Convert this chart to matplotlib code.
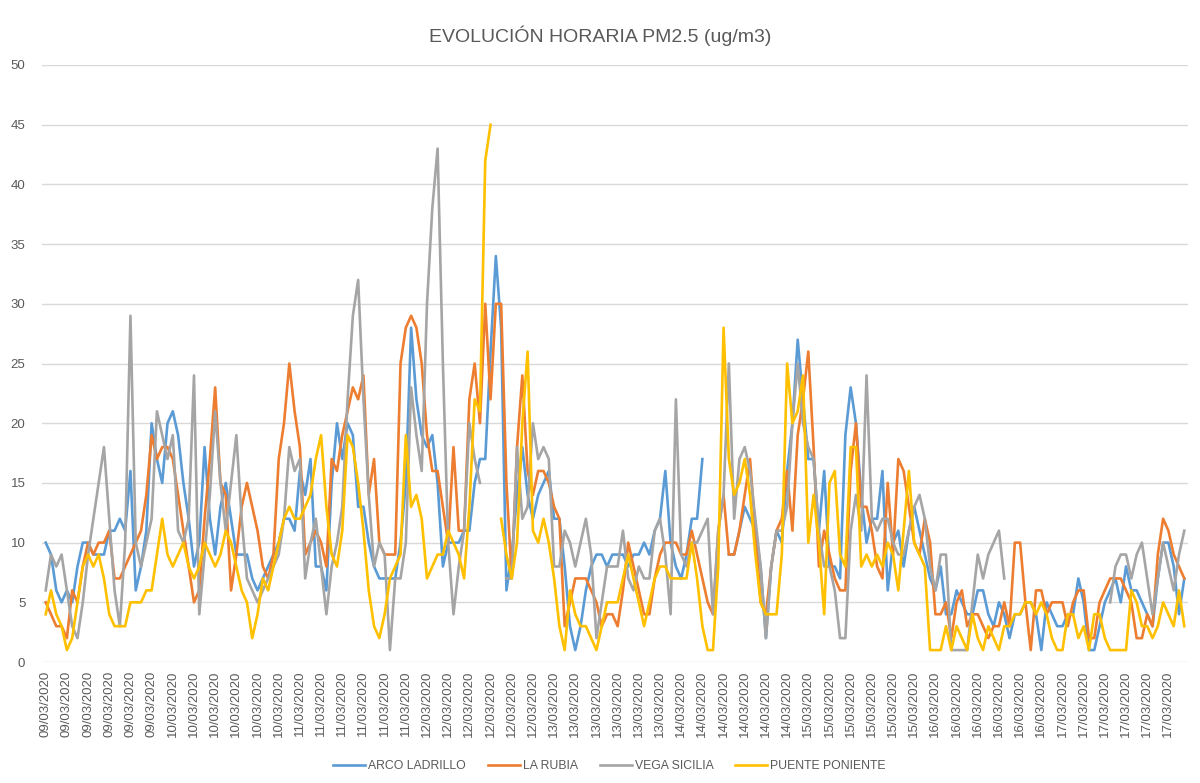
import numpy as np
import matplotlib
matplotlib.use("Agg")
import matplotlib.pyplot as plt

nan = np.nan

# dias (cada etiqueta cada 4 horas)
dias = ['09/03/2020', '10/03/2020', '11/03/2020', '12/03/2020', '13/03/2020',
        '14/03/2020', '15/03/2020', '16/03/2020', '17/03/2020']

# ---- PM2.5 horario (ug/m3), 24 valores por dia
arco_ladrillo = [
    10, 9, 6, 5, 6, 5, 8, 10, 10, 9, 9, 9, 11, 11, 12, 11, 16, 6, 8, 11, 20, 17, 15, 20,
    21, 19, 15, 12, 8, 10, 18, 12, 9, 13, 15, 12, 9, 9, 9, 7, 6, 7, 8, 9, 10, 12, 12, 11,
    16, 14, 17, 8, 8, 6, 15, 20, 17, 20, 19, 13, 13, 10, 8, 7, 7, 7, 7, 10, 15, 28, 22, 19,
    18, 19, 15, 8, 10, 10, 10, 11, 11, 15, 17, 17, 26, 34, 28, 6, 9, 14, 18, 14, 12, 14, 15, 16,
    12, 12, 8, 3, 1, 3, 6, 8, 9, 9, 8, 9, 9, 9, 8, 9, 9, 10, 9, 11, 12, 16, 10, 8,
    7, 9, 12, 12, 17, nan, nan, nan, nan, 9, 9, 11, 13, 12, 11, 8, 2, 8, 11, 10, 16, 20, 27, 22,
    17, 17, 11, 16, 8, 8, 7, 19, 23, 20, 14, 10, 12, 12, 16, 6, 10, 11, 8, 11, 13, 11, 9, 7,
    6, 8, 4, 4, 6, 5, 4, 4, 6, 6, 4, 3, 5, 4, 2, 4, 4, 5, 5, 4, 1, 5, 4, 3,
    3, 4, 4, 7, 5, 1, 1, 3, 5, 6, 7, 5, 8, 6, 6, 5, 4, 3, 7, 10, 10, 8, 4, 7,
]
la_rubia = [
    5, 4, 3, 3, 2, 6, 5, 8, 10, 9, 10, 10, 11, 7, 7, 8, 9, 10, 11, 14, 19, 17, 18, 18,
    17, 14, 11, 8, 5, 6, 12, 17, 23, 15, 14, 6, 9, 13, 15, 13, 11, 8, 7, 9, 17, 20, 25, 21,
    18, 9, 10, 11, 10, 8, 17, 16, 19, 21, 23, 22, 24, 14, 17, 10, 9, 9, 9, 25, 28, 29, 28, 25,
    19, 16, 16, 13, 10, 18, 11, 11, 22, 25, 20, 30, 22, 30, 30, 15, 7, 18, 24, 16, 14, 16, 16, 15,
    13, 12, 3, 5, 7, 7, 7, 6, 5, 3, 4, 4, 3, 6, 10, 8, 6, 4, 4, 7, 9, 10, 10, 10,
    9, 9, 11, 9, 7, 5, 4, 11, 14, 9, 9, 11, 14, 17, 11, 5, 4, 8, 11, 12, 16, 11, 19, 22,
    26, 18, 8, 11, 9, 7, 6, 6, 16, 20, 13, 13, 11, 8, 7, 15, 9, 17, 16, 13, 10, 9, 12, 10,
    4, 4, 5, 2, 5, 6, 3, 4, 4, 3, 2, 3, 3, 5, 3, 10, 10, 5, 1, 6, 6, 4, 5, 5,
    5, 3, 5, 6, 6, 2, 2, 5, 6, 7, 7, 7, 6, 5, 2, 2, 4, 3, 9, 12, 11, 9, 8, 7,
]
vega_sicilia = [
    6, 9, 8, 9, 6, 3, 2, 5, 9, 12, 15, 18, 12, 6, 3, 10, 29, 10, 8, 10, 12, 21, 19, 17,
    19, 11, 10, 12, 24, 4, 9, 14, 21, 15, 11, 15, 19, 12, 7, 6, 5, 6, 7, 8, 9, 12, 18, 16,
    17, 7, 10, 12, 8, 4, 8, 10, 13, 22, 29, 32, 22, 14, 8, 10, 9, 1, 7, 7, 10, 23, 19, 16,
    30, 38, 43, 25, 10, 4, 8, 11, 20, 17, 15, nan, nan, nan, nan, 7, 7, 18, 12, 13, 20, 17, 18, 17,
    8, 8, 11, 10, 8, 10, 12, 9, 2, 5, 8, 8, 8, 11, 7, 6, 8, 7, 7, 11, 12, 9, 4, 22,
    9, 8, 10, 10, 11, 12, 4, 11, 14, 25, 12, 17, 18, 16, 12, 8, 2, 8, 11, 11, 13, 20, 25, 20,
    18, 17, 11, 8, 8, 6, 2, 2, 11, 14, 11, 24, 12, 11, 12, 12, 10, 9, 9, 11, 13, 14, 12, 8,
    6, 9, 9, 1, 1, 1, 1, 5, 9, 7, 9, 10, 11, 7, nan, nan, nan, nan, nan, nan, nan, nan, nan, nan,
    nan, nan, nan, nan, nan, nan, nan, nan, nan, 5, 8, 9, 9, 7, 9, 10, 7, 4, 7, 10, 8, 6, 9, 11,
]
puente_poniente = [
    4, 6, 4, 3, 1, 2, 5, 8, 9, 8, 9, 7, 4, 3, 3, 3, 5, 5, 5, 6, 6, 9, 12, 9,
    8, 9, 10, 8, 7, 8, 10, 9, 8, 9, 11, 10, 8, 6, 5, 2, 4, 7, 6, 8, 10, 12, 13, 12,
    12, 13, 14, 17, 19, 13, 9, 8, 11, 19, 18, 15, 11, 6, 3, 2, 4, 7, 8, 9, 19, 13, 14, 12,
    7, 8, 9, 9, 11, 10, 9, 7, 13, 22, 21, 42, 45, nan, 12, 9, 7, 10, 20, 26, 11, 10, 12, 10,
    7, 3, 1, 6, 4, 3, 3, 2, 1, 3, 5, 5, 5, 7, 9, 7, 5, 3, 5, 7, 8, 8, 7, 7,
    7, 7, 10, 7, 3, 1, 1, 8, 28, 17, 14, 15, 17, 14, 9, 5, 4, 4, 4, 9, 25, 20, 21, 24,
    10, 14, 10, 4, 15, 16, 9, 8, 18, 18, 8, 9, 8, 9, 8, 10, 9, 6, 11, 16, 10, 9, 8, 1,
    1, 1, 3, 1, 3, 2, 1, 4, 2, 1, 3, 2, 1, 3, 3, 4, 4, 5, 5, 4, 5, 4, 2, 1,
    1, 4, 4, 2, 3, 1, 4, 4, 2, 1, 1, 1, 1, 6, 5, 3, 3, 2, 3, 5, 4, 3, 6, 3,
]

series = [
    ('ARCO LADRILLO', arco_ladrillo, '#5B9BD5'),
    ('LA RUBIA', la_rubia, '#ED7D31'),
    ('VEGA SICILIA', vega_sicilia, '#A5A5A5'),
    ('PUENTE PONIENTE', puente_poniente, '#FFC000'),
]

gris = '#595959'
plt.rcParams['font.family'] = ['Liberation Sans', 'DejaVu Sans']

fig = plt.figure(figsize=(12, 7.83), dpi=100)
ax = fig.add_axes([0.035, 0.1545, 0.955, 0.7625])

horas = np.arange(len(arco_ladrillo))
for nombre, valores, color in series:
    ax.plot(horas, valores, color=color, linewidth=1.9, label=nombre)

ax.set_ylim(0, 50)
ax.set_yticks(np.arange(0, 51, 5))
ax.set_xlim(-0.7, len(horas) - 0.3)

# etiquetas cada 4 horas
etiquetas = [d for d in dias for _ in range(6)]
ax.set_xticks(horas[::4])
ax.set_xticklabels(etiquetas, rotation=90, fontsize=9.5, color=gris)
ax.tick_params(axis='y', labelsize=9.5, labelcolor=gris, length=0, pad=12)
ax.tick_params(axis='x', length=0, pad=6)

ax.grid(axis='y', color='#D9D9D9', linewidth=1)
ax.set_axisbelow(True)
for s in ax.spines.values():
    s.set_visible(False)

fig.suptitle('EVOLUCIÓN HORARIA PM2.5 (ug/m3)', y=0.968, fontsize=14, color=gris)

fig.legend(loc='lower center', bbox_to_anchor=(0.508, 0.0), ncol=4, frameon=False,
           fontsize=8.8, handlelength=2.6, columnspacing=1.8, handletextpad=0.25,
           labelcolor=gris)

fig.savefig('out.png', dpi=100)
